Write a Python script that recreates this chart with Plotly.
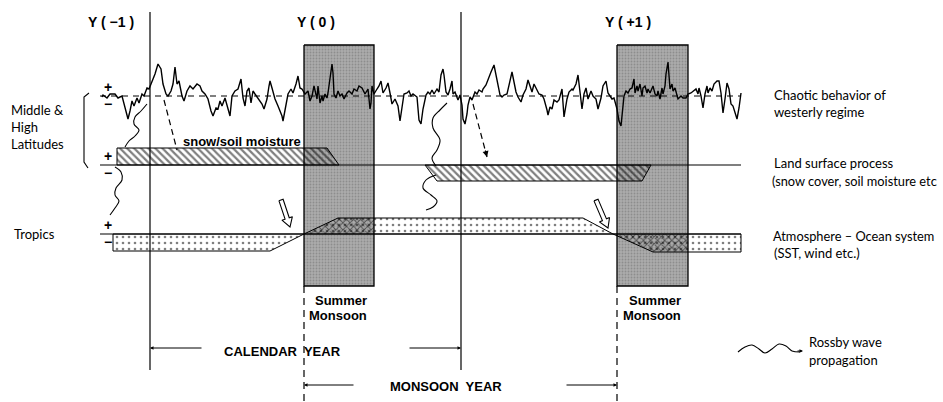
"""
Schematic of monsoon year vs calendar year: chaotic westerlies,
land surface memory and the atmosphere-ocean system.
"""

import math
import plotly.graph_objects as go

# ---- diagram frame (pixel-like units, y grows downward) ----
W, H = 943, 402
BASE_WEST = 96      # zero line of the westerly regime
LAND_Y = 165        # zero line of the land surface process
TROP_Y = 234        # zero line of the atmosphere-ocean system
LINE_START, LINE_END = 100, 741

# ---- chaotic westerly regime (time, anomaly above zero line) ----
west_t = [102, 103, 107, 110, 115, 118, 122, 125, 128, 130, 132, 134, 137, 139, 142, 144, 147, 149,
          151, 155, 158, 161, 163, 166, 168, 171, 173, 175, 177, 179, 182, 184, 187, 190, 193, 197,
          200, 202, 205, 208, 211, 213, 216, 218, 220, 222, 225, 228, 230, 232, 235, 238, 241, 243,
          245, 247, 249, 251, 253,
          255, 258, 262, 264, 267, 269, 270, 272, 275, 278, 282, 283, 286, 288, 291, 293, 296, 298,
          300, 302, 305, 308, 310, 312, 314, 317, 318, 320, 322, 323, 325, 327, 328, 330, 332, 333,
          334, 336, 338, 340, 342, 344, 347, 349, 352, 354, 357, 359, 362, 365, 368, 370, 371, 372,
          374, 377, 379, 381, 383, 386, 388, 390, 392, 395, 398, 400, 402, 404, 407, 409, 411, 413,
          417, 419, 421, 423, 426, 428, 430, 432, 434, 437, 439, 441, 443, 444, 446, 448, 450, 452,
          453, 455, 458, 460, 462, 463, 465, 467, 468, 470, 472, 475, 477, 479, 482, 483, 486, 488,
          491, 494, 496, 498, 500, 502, 504, 507, 509, 512, 514, 516, 518, 521, 523, 526, 528, 530,
          532, 534, 537, 539, 542, 544, 547, 548, 550, 552, 554, 557, 559, 561, 562, 564, 567, 569,
          572, 573, 576, 578,
          581, 582, 584, 586, 588, 591, 593, 596, 598, 601, 603, 606, 608, 610, 612, 614, 617, 619,
          621, 622, 624, 626, 628, 630, 632, 634, 635, 637, 638, 640, 642, 643, 645, 647, 648, 650,
          652, 653, 655, 657, 658, 660, 662, 663, 665, 666, 668, 669, 670, 672, 673, 675, 677, 678,
          681, 683, 686, 688, 691, 693, 696, 698, 699, 701, 703, 705, 707, 708, 710, 712, 714, 717,
          719, 721, 723, 725, 727, 729, 731, 733, 735, 737, 739, 741]
west_a = [-1, 1, -2, 2, 2, -2, 0, -12, -23, -15, -5, -10, -2, -7, 2, 0, 8, 7,
          12, 22, 32, 27, 12, 2, 0, 5, 12, 29, 12, 15, 0, -5, 5, 10, 7, 12,
          10, 5, 2, -3, -15, -20, -12, -13, -5, -10, -2, -12, -20, 0, 5, 7, 17, -2,
          -10, 5, 8, -7, 5,
          2, -2, -8, -13, -3, 10, 15, 8, -3, -10, -20, -25, -10, 2, 7, 3, 12, 20,
          8, 7, 2, 5, -5, 0, 10, -3, 10, -7, 0, -5, 2, -2, 3, 20, 32, 23,
          2, -2, 5, 0, 2, -3, 3, 5, 2, 7, 5, 10, 8, 2, 7, -13, -7, 10,
          2, 7, 10, 15, 3, 8, 13, 3, -8, -3, -10, -25, -13, 2, 3, 5, 0, 2,
          -1, -24, -28, -13, 1, 4, 2, 6, 2, 7, 4, 21, 27, 21, 4, 1, 7, 15,
          2, 4, -4, 1, -9, -23, -28, -18, -9, -1, -4, 4, 2, 6, 4, 7, 11, 17,
          24, 31, 21, 11, 1, -1, 1, 2, 12, 24, 14, 4, -1, -6, 1, 7, 16, 11,
          4, 12, 6, 2, 1, -3, -14, -19, -11, -13, -4, -6, -4, 4, 7, -21, -3, 4,
          7, 6, 12, 21,
          -2, -13, 2, 8, -3, 5, 0, -3, -13, -2, 10, 15, 3, 0, -3, -2, -13, -25,
          -30, -20, 0, 5, 3, 7, 8, 17, 3, 10, 5, 12, 0, 8, 10, 3, 7, 3,
          7, 10, 2, 0, 5, -3, 8, 2, 10, 22, 34, 23, 7, 12, 5, 8, 0, -3,
          0, -2, -2, 2, 3, 5, 7, 2, 8, 0, -12, 2, 10, 3, 8, 5, 12, 15,
          15, 3, -17, -3, 13, 7, -8, -10, -17, -23, -12, 3]

# ---- land surface (snow / soil moisture) anomaly bands ----
snow_t_1 = [117, 327, 339, 117]
snow_a_1 = [17, 17, 0, 0]
snow_t_2 = [425, 651, 642, 437]
snow_a_2 = [0, 0, -16, -16]

# ---- atmosphere-ocean (SST, wind) anomaly bands ----
sst_t_1 = [113, 304, 270, 113]
sst_a_1 = [0, 0, -17, -17]
sst_t_2 = [304, 338, 583, 613]
sst_a_2 = [0, 16, 16, 0]
sst_t_3 = [613, 741, 741, 653]
sst_a_3 = [0, 0, -18, -18]

# ---- year boundaries and summer monsoon periods ----
year_marks = [150, 461]
monsoon_start = [304, 617]
monsoon_end = [374, 688]
year_labels = ["Y ( −1 )", "Y ( 0 )", "Y ( +1 )"]
year_label_t = [111, 316, 628]

# ---- Rossby wave paths (hand traced waypoints) ----
rossby_paths = [
    ([147, 141, 135, 134, 139, 135, 129, 125], [104, 111, 117, 124, 130, 136, 141, 147]),
    ([115, 121, 122, 116, 115, 119, 115, 110], [167, 172, 180, 188, 195, 201, 208, 215]),
    ([447, 440, 433, 433, 440, 437, 432, 436], [103, 110, 118, 128, 140, 150, 158, 166]),
    ([436, 426, 423, 431, 437, 433, 426], [175, 180, 188, 195, 201, 207, 210]),
]
legend_wave_t = [738, 745, 752, 759, 765, 772, 779, 786, 792, 800]
legend_wave_y = [352, 347, 345, 349, 353, 349, 344, 346, 351, 352]

# ---- influence arrows ----
hollow_arrows = [((281, 200), (290, 227)), ((596, 200), (608, 228))]
dashed_arrows = [((164, 100), (177, 150), False), ((473, 104), (487, 157), True)]

BOLD = "Liberation Sans"
THIN = "Lato"


def clip_x(poly, lo, hi):
    """Clip a closed polygon to the vertical strip lo <= x <= hi."""
    def clip(points, inside, xb):
        out = []
        for i, p in enumerate(points):
            q = points[(i + 1) % len(points)]
            if inside(p[0]):
                out.append(p)
            if inside(p[0]) != inside(q[0]):
                t = (xb - p[0]) / (q[0] - p[0])
                out.append((xb, p[1] + t * (q[1] - p[1])))
        return out
    pts = clip(poly, lambda x: x >= lo, lo)
    return clip(pts, lambda x: x <= hi, hi) if pts else []


def band(ts, anoms, zero):
    return [(t, zero - a) for t, a in zip(ts, anoms)]


def add_poly(fig, pts, pattern=None, fill="rgba(0,0,0,0)", lw=1.0):
    xs = [p[0] for p in pts] + [pts[0][0]]
    ys = [p[1] for p in pts] + [pts[0][1]]
    fig.add_trace(go.Scatter(
        x=xs, y=ys, mode="lines", fill="toself", fillcolor=fill,
        fillpattern=pattern, line=dict(color="black", width=lw),
        hoverinfo="skip", showlegend=False))


def add_line(fig, xs, ys, width=1.0, dash="solid", shape="linear"):
    fig.add_trace(go.Scatter(
        x=xs, y=ys, mode="lines", line=dict(color="black", width=width, dash=dash, shape=shape),
        hoverinfo="skip", showlegend=False))


def hollow_arrow(start, end, shaft=2.2, head=5.5, head_len=9):
    (x0, y0), (x1, y1) = start, end
    L = math.hypot(x1 - x0, y1 - y0)
    dx, dy = (x1 - x0) / L, (y1 - y0) / L
    nx, ny = -dy, dx
    bx, by = x1 - dx * head_len, y1 - dy * head_len
    return [(x0 + nx * shaft, y0 + ny * shaft), (bx + nx * shaft, by + ny * shaft),
            (bx + nx * head, by + ny * head), (x1, y1),
            (bx - nx * head, by - ny * head), (bx - nx * shaft, by - ny * shaft),
            (x0 - nx * shaft, y0 - ny * shaft)]


fig = go.Figure()

# summer monsoon boxes
for s, e in zip(monsoon_start, monsoon_end):
    add_poly(fig, [(s, 45), (e, 45), (e, 286), (s, 286)], fill="#ababab", lw=1.3,
             pattern=dict(shape=".", fgcolor="#6f6f6f", size=3, solidity=0.3, fillmode="overlay"))

# land surface bands
hatch = dict(shape="\\", fgcolor="black", size=5, solidity=0.45)
add_poly(fig, band(snow_t_1, snow_a_1, LAND_Y), pattern=hatch)
add_poly(fig, band(snow_t_2, snow_a_2, LAND_Y), pattern=hatch)

# atmosphere-ocean bands, cross-hatched where they overlap the monsoon
dots = dict(shape=".", fgcolor="black", size=6, solidity=0.15)
cross = dict(shape="x", fgcolor="black", size=5, solidity=0.35)
for ts, a_s in [(sst_t_1, sst_a_1), (sst_t_2, sst_a_2), (sst_t_3, sst_a_3)]:
    poly = band(ts, a_s, TROP_Y)
    add_poly(fig, poly, pattern=dots)
    for s, e in zip(monsoon_start, monsoon_end):
        part = clip_x(poly, s, e)
        if len(part) > 2:
            add_poly(fig, part, pattern=cross, lw=0)

# zero lines and year boundaries
add_line(fig, [LINE_START, LINE_END], [LAND_Y, LAND_Y], width=1.2)
add_line(fig, [LINE_START, LINE_END], [TROP_Y, TROP_Y], width=1.2)
add_line(fig, [LINE_START, LINE_END], [BASE_WEST, BASE_WEST], width=1.0, dash="6px,5px")
for t in year_marks:
    add_line(fig, [t, t], [12, 370], width=1.2)
for t in monsoon_start:
    add_line(fig, [t, t], [286, 402], width=1.2, dash="7px,5px")

# chaotic westerly regime
fig.add_trace(go.Scatter(
    x=west_t, y=[BASE_WEST - a for a in west_a], mode="lines",
    line=dict(color="black", width=1.4), hoverinfo="skip", showlegend=False))

# Rossby waves
for xs, ys in rossby_paths:
    add_line(fig, xs, ys, width=1.1, shape="spline")
add_line(fig, legend_wave_t, legend_wave_y, width=1.1, shape="spline")

# bracket for the middle & high latitudes
add_line(fig, [89, 84, 84, 88], [93, 97, 162, 168], width=1.1)

for start, end in hollow_arrows:
    add_poly(fig, hollow_arrow(start, end), fill="white", lw=1.1)

annotations = []
arrow_style = dict(axref="x", ayref="y", showarrow=True, arrowhead=2, arrowcolor="black", text="")
for start, end, head in dashed_arrows:
    add_line(fig, [start[0], end[0]], [start[1], end[1]], width=1.2, dash="6px,4px")
    if head:
        annotations.append(dict(x=end[0], y=end[1], ax=end[0] - 2, ay=end[1] - 8,
                                arrowsize=1, arrowwidth=1.2, **arrow_style))

# calendar / monsoon year spans
spans = [(150, 203, 348), (461, 408, 348), (304, 355, 385), (617, 565, 385)]
for head_x, tail_x, yy in spans:
    annotations.append(dict(x=head_x, y=yy, ax=tail_x, ay=yy,
                            arrowsize=0.7, arrowwidth=1, **arrow_style))
annotations.append(dict(x=803, y=351, ax=796, ay=351, arrowsize=0.7, arrowwidth=1, **arrow_style))


def label(text, x, y, size=13, font=THIN, anchor="left", bold=False):
    annotations.append(dict(x=x, y=y, text=f"<b>{text}</b>" if bold else text, showarrow=False,
                            xanchor=anchor, yanchor="middle",
                            font=dict(family=font, size=size, color="black")))


for txt, t in zip(year_labels, year_label_t):
    label(txt, t, 22, size=14, font=BOLD, anchor="center", bold=True)

for yz in [BASE_WEST, LAND_Y, TROP_Y]:
    label("+", 108, yz - 9, size=14, font=BOLD, anchor="center", bold=True)
    label("−", 108, yz + 8, size=14, font=BOLD, anchor="center", bold=True)

label("Middle &", 9, 110, size=13)
label("High", 9, 127, size=13)
label("Latitudes", 9, 144, size=13)
label("Tropics", 12, 234, size=13)

label("Chaotic behavior of", 772, 95)
label("westerly regime", 772, 112)
label("Land surface process", 772, 163)
label("(snow cover, soil moisture etc", 770, 181, size=12.8)
label("Atmosphere – Ocean system", 771, 236, size=12.8)
label("(SST, wind etc.)", 772, 253)
label("Rossby wave", 807, 342, size=13)
label("propagation", 807, 360, size=13)

label("snow/soil moisture", 181, 141, size=13, font=BOLD, bold=True)
for s, e in zip(monsoon_start, monsoon_end):
    label("Summer", (s + e) / 2 + 2, 300, size=13, font=BOLD, anchor="center", bold=True)
    label("Monsoon", (s + e) / 2 - 1, 315, size=13, font=BOLD, anchor="center", bold=True)
label("CALENDAR  YEAR", 282, 351, size=13, font=BOLD, anchor="center", bold=True)
label("MONSOON  YEAR", 446, 386, size=13, font=BOLD, anchor="center", bold=True)

fig.update_layout(
    width=W, height=H,
    margin=dict(l=0, r=0, t=0, b=0),
    paper_bgcolor="white", plot_bgcolor="white",
    xaxis=dict(range=[0, W], visible=False, fixedrange=True),
    yaxis=dict(range=[H, 0], visible=False, fixedrange=True),
    annotations=annotations,
    showlegend=False,
)

# the page body has a default 8px margin; drop it so the diagram sits at the corner
fig.write_html("out.html", config={"displayModeBar": False},
               post_script="document.body.style.margin='0';")
